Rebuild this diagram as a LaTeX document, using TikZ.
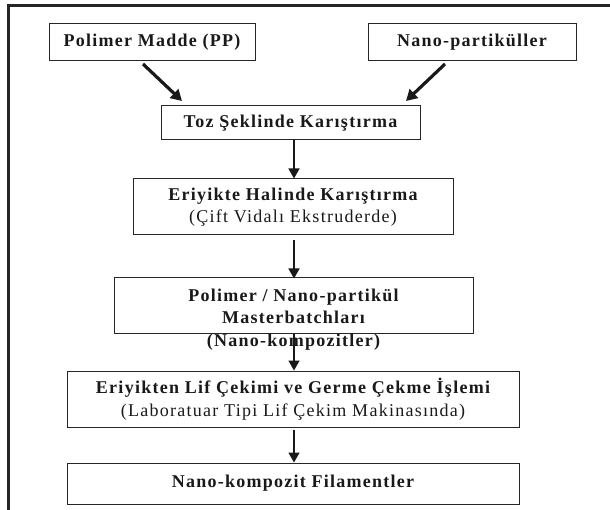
\documentclass[tikz,border=0pt]{standalone}
\usepackage{fontspec}
\setmainfont{Liberation Serif}[LetterSpace=7]
\usetikzlibrary{arrows.meta}
\tikzset{
  box/.style={draw=black!85, line width=1pt, rectangle, inner sep=0pt, align=center, text=black!90, font=\fontsize{18}{22.5}\selectfont\bfseries},
  vflow/.style={draw=black!90, line width=1.6pt, -{Triangle[length=10pt,width=11pt]}},
  dflow/.style={draw=black!90, line width=3.2pt, -{Triangle[length=11pt,width=12pt]}},
  frame/.style={draw=black!85, line width=3pt},
}
\begin{document}
\begin{tikzpicture}[x=1pt,y=1pt]
\useasboundingbox (0,0) rectangle (610,-510);
\coordinate (fl) at (8.5,-510);
\coordinate (ftl) at (8.5,-6);
\coordinate (ftr) at (610,-6);
\draw[frame] (fl) -- (ftl) -- (ftr);
% top boxes
\node[box, minimum width=206pt, minimum height=37pt] (pp) at (152,-42.5) {Polimer Madde (PP)};
\node[box, minimum width=208pt, minimum height=37pt] (np) at (472,-42.5) {Nano-partiküller};
% mixing
\node[box, minimum width=259pt, minimum height=34pt] (toz) at (290.5,-123) {Toz Şeklinde Karıştırma};
\node[box, minimum width=320pt, minimum height=56pt] (eri) at (293,-207) {Eriyikte Halinde Karıştırma\\{\mdseries (Çift Vidalı Ekstruderde)}};
\node[box, minimum width=359pt, minimum height=56pt] (pn) at (293.5,-306) {};
\node[box, draw=none] (pnt) at (293.5,-319.5) {Polimer / Nano-partikül\\Masterbatchları\\(Nano-kompozitler)};
\node[box, minimum width=452pt, minimum height=56pt] (lif) at (293,-399) {Eriyikten Lif Çekimi ve Germe Çekme İşlemi\\{\mdseries (Laboratuar Tipi Lif Çekim Makinasında)}};
\node[box, minimum width=452pt, minimum height=41pt] (fil) at (293,-483.5) {Nano-kompozit Filamentler};
% arrows
\coordinate (a1s) at (143,-64);
\coordinate (a1e) at (182,-101);
\coordinate (a2s) at (445,-64);
\coordinate (a2e) at (406,-101);
\coordinate (ax) at (294,0);
\draw[dflow] (a1s) -- (a1e);
\draw[dflow] (a2s) -- (a2e);
\draw[vflow] (ax |- toz.south) -- (ax |- eri.north);
\draw[vflow] ([yshift=-5pt]ax |- eri.south) -- ([yshift=-1pt]ax |- pn.north);
\draw[vflow] (ax |- pn.south) -- (ax |- lif.north);
\draw[vflow] ([yshift=-2pt]ax |- lif.south) -- (ax |- fil.north);
\end{tikzpicture}
\end{document}
